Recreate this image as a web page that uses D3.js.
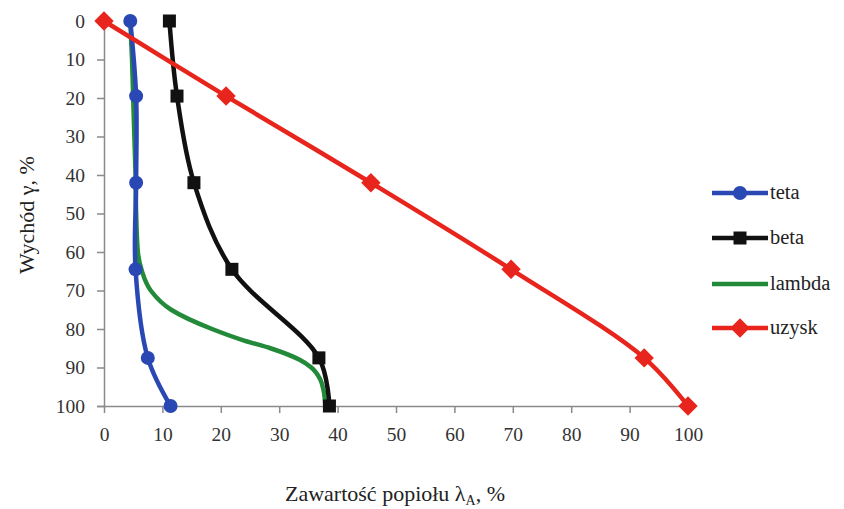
<!DOCTYPE html>
<html><head><meta charset="utf-8">
<script src="https://cdn.jsdelivr.net/npm/d3@7"></script>
<style>body{margin:0;background:#fff}svg{display:block}text{font-family:"Liberation Serif","Times New Roman",serif}</style>
</head><body>
<svg id="c" width="844" height="509"></svg>
<script>
const xTicks = [0,10,20,30,40,50,60,70,80,90,100];
const yTicks = [0,10,20,30,40,50,60,70,80,90,100];
const markerYield = [0,19.5,42,64.5,87.5,100];
const tetaAsh  = [4.5,5.5,5.5,5.4,7.5,11.4];
const betaAsh  = [11.2,12.5,15.4,21.9,36.8,38.6];
const uzyskAsh = [0,20.9,45.7,69.7,92.5,100];
const lambdaYield = [0,10,20,30,40,50,60,65,70,75,80,83,85,88,90,93,96,100];
const lambdaAsh   = [4.5,4.8,5.0,5.2,5.4,5.5,5.8,6.5,8.0,11.5,18.5,24,28.5,33.5,35.5,37,37.6,37.9];
const seriesNames = ["teta","beta","lambda","uzysk"];
const colors = {teta:"#2a48b4", beta:"#111111", lambda:"#238a3a", uzysk:"#e8251d"};

const svg = d3.select("#c");
const x = d3.scaleLinear().domain([0,100]).range([104,688]);
const y = d3.scaleLinear().domain([0,100]).range([21,406]);

// axes
const gx = svg.append("g").attr("transform","translate(0,406)")
  .call(d3.axisBottom(x).tickValues(xTicks).tickSize(7).tickPadding(14));
const gy = svg.append("g").attr("transform","translate(104,0)")
  .call(d3.axisLeft(y).tickValues(yTicks).tickSize(7).tickPadding(12));
[gx,gy].forEach(g=>{
  g.select(".domain").attr("stroke","#8a8a8a").attr("stroke-width",1.5);
  g.selectAll(".tick line").attr("stroke","#8a8a8a").attr("stroke-width",1.5);
  g.selectAll("text").attr("font-size",19.5).attr("fill","#333");
});
gx.select(".tick line").attr("stroke","none");

const line = d3.line().x(d=>x(d[0])).y(d=>y(d[1])).curve(d3.curveCatmullRom.alpha(0.5));
const lineMono = d3.line().x(d=>x(d[0])).y(d=>y(d[1])).curve(d3.curveMonotoneY);
const zip = (a,b)=>a.map((v,i)=>[v,b[i]]);
const data = {
  teta: zip(tetaAsh, markerYield),
  beta: zip(betaAsh, markerYield),
  lambda: zip(lambdaAsh, lambdaYield),
  uzysk: zip(uzyskAsh, markerYield)
};
const lineW = 4.5;
["lambda","teta","beta","uzysk"].forEach(s=>{
  svg.append("path").attr("d", s==="lambda" ? lineMono(data[s]) : line(data[s]))
    .attr("fill","none").attr("stroke",colors[s]).attr("stroke-width",lineW).attr("stroke-linejoin","round");
});
function marker(g, s, cx, cy){
  if(s==="teta") g.append("circle").attr("cx",cx).attr("cy",cy).attr("r",7).attr("fill",colors[s]);
  else if(s==="beta") g.append("rect").attr("x",cx-6.5).attr("y",cy-6.5).attr("width",13).attr("height",13).attr("fill",colors[s]);
  else if(s==="uzysk") g.append("path").attr("d",d3.symbol(d3.symbolDiamond2,240)()).attr("transform",`translate(${cx},${cy})`).attr("fill",colors[s]);
}
["teta","beta","uzysk"].forEach(s=>{
  const g = svg.append("g");
  data[s].forEach(d=>marker(g,s,x(d[0]),y(d[1])));
});

// legend
const legY = [193,238,284,328];
seriesNames.forEach((s,i)=>{
  const g = svg.append("g");
  g.append("line").attr("x1",712).attr("x2",768).attr("y1",legY[i]).attr("y2",legY[i])
    .attr("stroke",colors[s]).attr("stroke-width",lineW);
  marker(g,s,740,legY[i]);
  g.append("text").attr("x",770).attr("y",legY[i]+6).attr("font-size",20.5).attr("fill","#222").text(s);
});

// axis titles
const xt = svg.append("text").attr("x",395).attr("y",501).attr("text-anchor","middle").attr("font-size",22).attr("fill","#222");
xt.append("tspan").text("Zawartość popiołu λ");
xt.append("tspan").attr("font-size",14).attr("dy",4).text("A");
xt.append("tspan").attr("dy",-4).text(", %");
svg.append("text").attr("transform","translate(34,215) rotate(-90)").attr("text-anchor","middle")
  .attr("font-size",22).attr("fill","#222").text("Wychód γ, %");
</script>
</body></html>
